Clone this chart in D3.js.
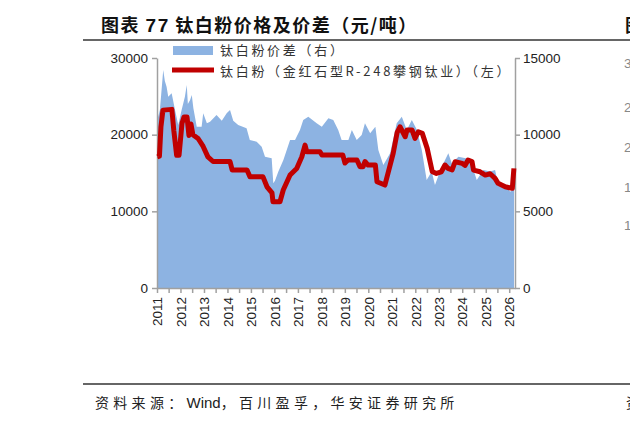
<!DOCTYPE html>
<html>
<head>
<meta charset="utf-8">
<script src="https://cdn.jsdelivr.net/npm/d3@7"></script>
<style>
  body { margin: 0; background: #fff; }
  svg { display: block; }
</style>
</head>
<body>
<div id="chart"></div>
<script>
// 钛白粉价差 (right axis)
const spreadDates = ["2011-01-05","2011-02-15","2011-04-08","2011-05-03","2011-05-30","2011-06-25","2011-08-17","2011-10-08","2011-11-28",
  "2012-01-19","2012-03-10","2012-04-08","2012-04-25","2012-05-30","2012-06-25","2012-07-20","2012-09-10","2012-11-25","2012-12-20",
  "2013-02-15","2013-04-05","2013-07-15","2013-10-05","2013-12-20","2014-02-10","2014-04-01","2014-06-17","2014-10-25","2014-12-15",
  "2015-04-01","2015-06-17","2015-08-08","2015-11-20","2015-12-15","2016-01-10","2016-03-03","2016-05-20","2016-09-01","2016-11-17",
  "2017-02-02","2017-03-25","2017-06-12","2017-10-20","2018-01-08","2018-04-20","2018-07-05","2018-09-20","2018-11-12",
  "2019-02-25","2019-04-20","2019-07-05","2019-09-20","2019-11-10","2020-01-30","2020-04-20","2020-06-05","2020-08-22","2020-12-05",
  "2021-03-18","2021-06-05","2021-08-22","2021-11-08","2022-01-27","2022-04-12","2022-06-27","2022-09-13","2022-11-03",
  "2023-02-17","2023-05-30","2023-07-22","2023-11-03","2024-03-13","2024-05-30","2024-08-14","2024-11-25",
  "2025-03-10","2025-05-26","2025-07-16","2025-10-30","2026-01-15","2026-03-17"];
const spreadValues = [10960,11610,14220,13500,13130,12480,12700,11610,10630,
  11610,12480,13240,12000,12260,12590,11720,10520,10520,11400,
  10740,10850,11290,10900,11400,11610,10900,10630,10420,9650,
  9540,9220,8560,8460,6830,7000,7590,8350,9650,9650,
  10310,10960,11170,10740,10520,11070,10950,10310,9650,
  9650,10310,9650,9980,10740,10090,10520,9000,8020,8790,
  10740,11170,10310,10960,10310,9000,7050,7590,6720,
  7910,8790,8130,8560,8450,8020,7050,7700,
  7600,7700,6720,6800,6280,6500];

// 钛白粉（金红石型R-248攀钢钛业） (left axis)
const priceDates = ["2011-01-05","2011-02-08","2011-03-03","2011-04-03","2011-08-20","2011-09-20","2011-11-03","2011-12-10",
  "2012-01-25","2012-02-25","2012-04-12","2012-05-12","2012-06-12","2012-07-12","2012-10-01","2012-12-17",
  "2013-03-03","2013-05-22","2014-02-10","2014-03-15","2014-11-01","2014-12-17","2015-07-08","2015-09-08","2015-11-25","2015-12-10",
  "2016-03-28","2016-05-18","2016-09-01","2016-12-13","2017-03-03","2017-04-22","2017-05-18","2017-12-10",
  "2018-01-10","2018-12-01","2019-01-03","2019-02-20","2019-07-08","2019-08-25","2019-10-12","2019-11-10","2019-12-28",
  "2020-04-20","2020-05-15","2020-09-15","2020-11-02","2021-01-22","2021-03-25","2021-05-08","2021-07-28","2021-08-25","2021-11-12","2021-12-28",
  "2022-02-17","2022-04-20","2022-07-05","2022-09-22","2022-11-25","2023-02-10","2023-04-08","2023-05-25","2023-07-28","2023-09-12",
  "2024-01-01","2024-02-15","2024-04-01","2024-06-01","2024-06-25","2024-10-05","2024-12-25",
  "2025-03-10","2025-05-26","2025-07-12","2025-10-30","2026-02-18","2026-03-15"];
const priceValues = [17100,17200,21000,23200,23300,20500,17300,17300,
  21500,22300,22300,19900,21400,20000,19500,18500,
  17100,16500,16500,15400,15400,14500,14500,13200,12400,11250,
  11250,12780,14730,15600,17120,18640,17780,17780,
  17340,17340,16300,16690,16690,15820,15820,16500,16040,
  16040,13860,13430,14950,17560,20300,21030,19730,20600,20600,19520,
  20380,20170,18210,15160,14950,15160,16040,15600,15400,16470,
  16250,16000,16690,16500,15380,15160,14730,
  14900,14300,13650,13210,13000,15600];

const years = ["2011","2012","2013","2014","2015","2016","2017","2018","2019","2020","2021","2022","2023","2024","2025","2026"];
const leftTicks = [0, 10000, 20000, 30000];
const rightTicks = [0, 5000, 10000, 15000];
const legendLabels = ["钛白粉价差（右）", "钛白粉（金红石型R-248攀钢钛业）（左）"];

const width = 630, height = 423;
const margin = { top: 58, right: 115, bottom: 135, left: 157 };
const parse = d3.timeParse("%Y-%m-%d");
const numFont = "'Liberation Sans', Arial, sans-serif";
const cjkFont = "'Noto Sans CJK SC', sans-serif";

const spread = spreadDates.map((d, i) => ({ date: parse(d), value: spreadValues[i] }));
const price = priceDates.map((d, i) => ({ date: parse(d), value: priceValues[i] }));

const svg = d3.select("#chart")
  .append("svg")
  .attr("width", width)
  .attr("height", height);

svg.append("rect").attr("width", width).attr("height", height).attr("fill", "#fff");

let x = d3.scaleTime()
  .domain([new Date(2011, 0, 1), new Date(2026, 3, 1)])
  .range([margin.left, width - margin.right]);

let yL = d3.scaleLinear()
  .domain([0, 30000])
  .range([height - margin.bottom, margin.top]);

let yR = d3.scaleLinear()
  .domain([0, 15000])
  .range([height - margin.bottom, margin.top]);

// title + rules
let title = svg.append("text")
  .attr("x", 101).attr("y", 32)
  .attr("font-family", cjkFont)
  .attr("font-weight", "bold")
  .attr("font-size", 18)
  .attr("letter-spacing", 1.5)
  .attr("fill", "#111");
title.append("tspan").text("图表 ");
title.append("tspan").attr("font-family", numFont).attr("font-size", 19).text("77");
title.append("tspan").text(" 钛白粉价格及价差（元/吨）");

svg.append("line").attr("x1", 83).attr("x2", width).attr("y1", 40).attr("y2", 40)
  .attr("stroke", "#333").attr("stroke-width", 1.3);
svg.append("line").attr("x1", 83).attr("x2", width).attr("y1", 384).attr("y2", 384)
  .attr("stroke", "#333").attr("stroke-width", 1.3);

// area
let area = d3.area()
  .x(d => x(d.date))
  .y0(yR(0))
  .y1(d => yR(d.value));

svg.append("path")
  .datum(spread)
  .attr("d", area)
  .attr("fill", "#8db3e2");

// axes
let xTicks = d3.timeMonth.every(6).range(new Date(2011, 0, 1), new Date(2026, 3, 2));
let gx = svg.append("g")
  .attr("transform", `translate(0,${height - margin.bottom})`)
  .call(d3.axisBottom(x)
    .tickValues(xTicks)
    .tickSize(5)
    .tickSizeOuter(0)
    .tickFormat(d => d.getMonth() === 0 ? years[d.getFullYear() - 2011] : ""));
gx.selectAll(".tick text")
  .attr("transform", "rotate(-90)")
  .attr("text-anchor", "end")
  .attr("x", -9)
  .attr("y", 0)
  .attr("dy", "0.35em");

let gl = svg.append("g")
  .attr("transform", `translate(${margin.left},0)`)
  .call(d3.axisLeft(yL).tickValues(leftTicks).tickFormat(d => d).tickSize(5).tickSizeOuter(0));

let gr = svg.append("g")
  .attr("transform", `translate(${width - margin.right},0)`)
  .call(d3.axisRight(yR).tickValues(rightTicks).tickFormat(d => d).tickSize(5).tickSizeOuter(0));

[gx, gl, gr].forEach(g => {
  g.selectAll("path, line").attr("stroke", "#a0a0a0").attr("stroke-width", 1.5);
  g.selectAll("text")
    .attr("font-family", numFont)
    .attr("font-size", 13.5)
    .attr("fill", "#222");
});
gl.selectAll(".tick text").attr("x", -9);
gr.selectAll(".tick text").attr("x", 8);

// price line
let line = d3.line()
  .x(d => x(d.date))
  .y(d => yL(d.value));

svg.append("path")
  .datum(price)
  .attr("d", line)
  .attr("fill", "none")
  .attr("stroke", "#c00000")
  .attr("stroke-width", 5)
  .attr("stroke-linejoin", "round");

// legend
svg.append("rect")
  .attr("x", 173).attr("y", 46).attr("width", 40).attr("height", 9)
  .attr("fill", "#8db3e2");
svg.append("line")
  .attr("x1", 172).attr("x2", 214).attr("y1", 70).attr("y2", 70)
  .attr("stroke", "#c00000").attr("stroke-width", 5);

legendLabels.forEach((t, i) => {
  svg.append("text")
    .attr("x", 220).attr("y", 55 + i * 21)
    .attr("font-family", cjkFont)
    .attr("font-size", 13)
    .attr("letter-spacing", 2.7)
    .attr("fill", "#333")
    .text(t);
});

// source
let src = svg.append("text")
  .attr("x", 95).attr("y", 408)
  .attr("font-family", cjkFont)
  .attr("font-size", 14)
  .attr("fill", "#222");
src.append("tspan").attr("letter-spacing", 4.3).text("资料来源：");
src.append("tspan").attr("font-family", numFont).attr("font-size", 15).text("Wind");
src.append("tspan").attr("letter-spacing", 4.3).text("，百川盈孚，华安证券研究所");

// clipped neighbours at the right edge
svg.append("text").attr("x", 625).attr("y", 32)
  .attr("font-family", cjkFont).attr("font-weight", "bold").attr("font-size", 18)
  .attr("fill", "#111").text("图");
["3", "2", "2", "1", "1"].forEach((t, i) => {
  svg.append("text").attr("x", 624).attr("y", [68, 112, 152, 192, 230][i])
    .attr("font-family", numFont).attr("font-size", 13.5)
    .attr("fill", "#888").text(t);
});
svg.append("text").attr("x", 626).attr("y", 408)
  .attr("font-family", cjkFont).attr("font-size", 14)
  .attr("fill", "#222").text("资");
</script>
</body>
</html>
